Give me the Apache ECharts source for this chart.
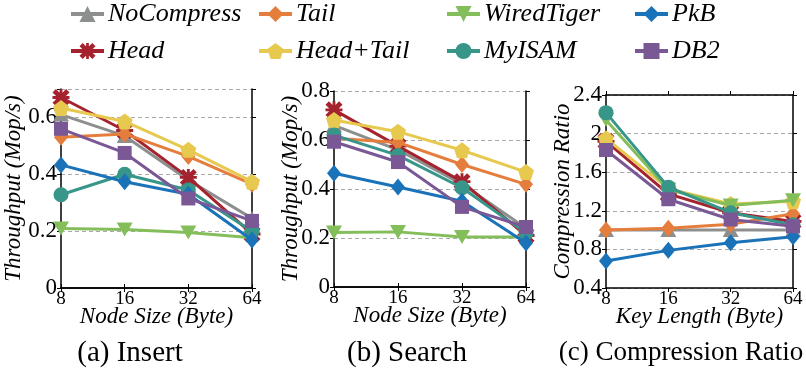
<!DOCTYPE html>
<html><head><meta charset="utf-8">
<script src="https://cdn.jsdelivr.net/npm/echarts@6/dist/echarts.min.js"></script>
<style>html,body{margin:0;padding:0;background:#fff}#c{width:806px;height:374px}</style>
</head><body><div id="c"></div>
<script>
// ---- data ----
const categories = ['8', '16', '32', '64'];
const seriesNames = ['NoCompress', 'Head', 'Tail', 'Head+Tail', 'WiredTiger', 'MyISAM', 'PkB', 'DB2'];

// (a) Insert throughput (Mop/s)
const insertNoCompress = [0.61, 0.535, 0.38, 0.245];
const insertHead       = [0.67, 0.554, 0.389, 0.19];
const insertTail       = [0.53, 0.542, 0.463, 0.365];
const insertHeadTail   = [0.633, 0.586, 0.486, 0.374];
const insertWiredTiger = [0.209, 0.206, 0.195, 0.177];
const insertMyISAM     = [0.328, 0.40, 0.345, 0.20];
const insertPkB        = [0.433, 0.374, 0.33, 0.169];
const insertDB2        = [0.56, 0.475, 0.315, 0.236];

// (b) Search throughput (Mop/s)
const searchNoCompress = [0.66, 0.56, 0.42, 0.24];
const searchHead       = [0.723, 0.575, 0.43, 0.21];
const searchTail       = [0.607, 0.59, 0.50, 0.419];
const searchHeadTail   = [0.682, 0.634, 0.558, 0.469];
const searchWiredTiger = [0.222, 0.225, 0.204, 0.204];
const searchMyISAM     = [0.62, 0.537, 0.405, 0.22];
const searchPkB        = [0.464, 0.408, 0.35, 0.18];
const searchDB2        = [0.593, 0.51, 0.327, 0.245];

// (c) Compression ratio
const ratioNoCompress = [1.0, 1.0, 1.0, 1.0];
const ratioHead       = [1.92, 1.375, 1.18, 1.09];
const ratioTail       = [1.0, 1.02, 1.06, 1.17];
const ratioHeadTail   = [1.95, 1.43, 1.27, 1.30];
const ratioWiredTiger = [2.14, 1.42, 1.255, 1.31];
const ratioMyISAM     = [2.217, 1.445, 1.18, 1.055];
const ratioPkB        = [0.68, 0.79, 0.87, 0.93];
const ratioDB2        = [1.83, 1.32, 1.11, 1.04];

const yTicksInsert = [0, 0.2, 0.4, 0.6];
const yTicksSearch = [0, 0.2, 0.4, 0.6, 0.8];
const yTicksRatio  = [0.4, 0.8, 1.2, 1.6, 2.0, 2.4];

const panelTitles = ['(a) Insert', '(b) Search', '(c) Compression Ratio'];
const xNames = ['Node Size (Byte)', 'Node Size (Byte)', 'Key Length (Byte)'];
const yNames = ['Throughput (Mop/s)', 'Throughput (Mop/s)', 'Compression Ratio'];

// ---- styles ----
const FONT = 'Liberation Serif';
const colors = ['#8d8f8e', '#a5232e', '#e57e3c', '#e8c94f', '#84be5b', '#37958a', '#1a72b8', '#7a5896'];
const pentagon = 'path://M10,0 L19.51,6.91 L15.88,18.09 L4.12,18.09 L0.49,6.91 Z';
const triDown = 'path://M0,0 L20,0 L10,17 Z';
const triUp = 'path://M10,0 L20,17 L0,17 Z';
const asterisk = 'path://M0,4 L4,0 L10,6 L16,0 L20,4 L14,10 L20,16 L16,20 L10,14 L4,20 L0,16 L6,10 Z M8.3,0 L11.7,0 L11.7,20 L8.3,20 Z M0,8.3 L20,8.3 L20,11.7 L0,11.7 Z';
const symbols = [triUp, asterisk, 'diamond', pentagon, triDown, 'circle', 'diamond', 'rect'];
const symSizes = [[16, 14], 17, [14, 17], 16, [16, 14], 15, [14, 17], 14];

const panelData = [
  [insertNoCompress, insertHead, insertTail, insertHeadTail, insertWiredTiger, insertMyISAM, insertPkB, insertDB2],
  [searchNoCompress, searchHead, searchTail, searchHeadTail, searchWiredTiger, searchMyISAM, searchPkB, searchDB2],
  [ratioNoCompress, ratioHead, ratioTail, ratioHeadTail, ratioWiredTiger, ratioMyISAM, ratioPkB, ratioDB2]
];
const yTickSets = [yTicksInsert, yTicksSearch, yTicksRatio];
const yRanges = [[0, 0.7, 0.2], [0, 0.8, 0.2], [0.4, 2.4, 0.4]];
const grids = [
  {left: 61, top: 89, width: 191, height: 199},
  {left: 334, top: 91, width: 192, height: 196},
  {left: 606, top: 95, width: 187, height: 193}
];
const yNameGaps = [36, 32, 32];
const titleX = [130, 407, 681];
const titleSizes = [29, 29, 27];

const xAxes = [], yAxes = [], series = [];
grids.forEach((g, p) => {
  const ticks = yTickSets[p];
  const [mn, mx, iv] = yRanges[p];
  xAxes.push({
    type: 'category', gridIndex: p, data: categories, boundaryGap: false, position: 'bottom',
    axisLine: {show: true, lineStyle: {color: '#000', width: 1.5}},
    axisTick: {show: true, inside: false, length: 4, lineStyle: {color: '#000'}},
    axisLabel: {color: '#000', fontFamily: FONT, fontSize: 19, margin: 2},
    splitLine: {show: false},
    name: xNames[p], nameLocation: 'middle', nameGap: 17, nameMoveOverlap: false,
    nameTextStyle: {color: '#000', fontFamily: FONT, fontStyle: 'italic', fontSize: 23}
  });
  xAxes.push({
    type: 'category', gridIndex: p, data: categories, boundaryGap: false, position: 'top',
    axisLine: {show: true, lineStyle: {color: '#000', width: 1.5}},
    axisTick: {show: true, inside: false, length: 4, lineStyle: {color: '#000'}},
    axisLabel: {show: false}, splitLine: {show: false}
  });
  const fmt = v => {
    const hit = ticks.find(t => Math.abs(t - v) < 1e-6);
    return hit === undefined ? '' : String(hit);
  };
  yAxes.push({
    type: 'value', gridIndex: p, min: mn, max: mx, interval: iv, position: 'left',
    axisLine: {show: true, lineStyle: {color: '#000', width: 1.5}},
    axisTick: {show: true, inside: false, length: 4, lineStyle: {color: '#000'}},
    axisLabel: {color: '#000', fontFamily: FONT, fontSize: 23, margin: 4, formatter: fmt, showMaxLabel: true},
    splitLine: {show: true, lineStyle: {color: '#aaaaaa', type: [4, 3], width: 1}},
    name: yNames[p], nameLocation: 'middle', nameRotate: 90, nameGap: yNameGaps[p], nameMoveOverlap: false,
    nameTextStyle: {color: '#000', fontFamily: FONT, fontStyle: 'italic', fontSize: 23}
  });
  yAxes.push({
    type: 'value', gridIndex: p, min: mn, max: mx, interval: iv, position: 'right',
    axisLine: {show: true, lineStyle: {color: '#000', width: 1.5}},
    axisTick: {show: true, inside: false, length: 4, lineStyle: {color: '#000'}},
    axisLabel: {show: false}, splitLine: {show: false}
  });
  seriesNames.forEach((name, i) => {
    series.push({
      type: 'line', name: name, xAxisIndex: 2 * p, yAxisIndex: 2 * p,
      data: panelData[p][i], symbol: symbols[i], symbolSize: symSizes[i],
      showAllSymbol: true, clip: false, z: 2 + i,
      lineStyle: {width: 3, color: colors[i]},
      itemStyle: {color: colors[i], opacity: 1},
      emphasis: {disabled: true}
    });
  });
});

const legendCols = [69, 257, 445, 633];
const legendRows = [1, 38];
const legends = seriesNames.map((name, i) => ({
  data: [name], left: legendCols[Math.floor(i / 2)], top: legendRows[i % 2],
  padding: 0, itemWidth: 33, itemHeight: 20, itemGap: 0,
  lineStyle: {width: 4},
  textStyle: {color: '#000', fontFamily: FONT, fontStyle: 'italic', fontSize: 26, padding: [0, 0, 0, -1]},
  selectedMode: false
}));

const graphic = panelTitles.map((t, p) => ({
  type: 'text', x: titleX[p], y: 353,
  style: {text: t, fill: '#000', font: titleSizes[p] + 'px "Liberation Serif"', textAlign: 'center', textVerticalAlign: 'middle'}
}));

const chart = echarts.init(document.getElementById('c'), null, {renderer: 'canvas'});
chart.setOption({
  animation: false,
  color: colors,
  grid: grids.map(g => Object.assign({containLabel: false}, g)),
  xAxis: xAxes, yAxis: yAxes, series: series,
  legend: legends, graphic: graphic
});
</script></body></html>
